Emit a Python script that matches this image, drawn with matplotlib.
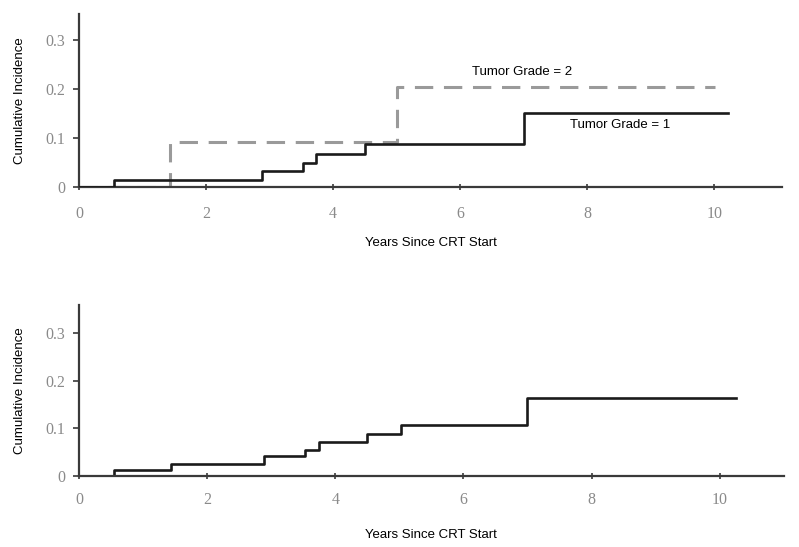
import matplotlib
matplotlib.use("Agg")
import matplotlib.pyplot as plt

# top panel: cumulative incidence by tumor grade
grade1_years = [0, 0.55, 2.88, 3.52, 3.73, 4.5, 7.0, 10.22]
grade1_inc = [0, 0.015, 0.033, 0.050, 0.067, 0.088, 0.152, 0.152]

grade2_years = [0, 1.43, 5.01, 10.02]
grade2_inc = [0, 0.093, 0.205, 0.205]

# bottom panel: overall cumulative incidence
all_years = [0, 0.55, 1.44, 2.89, 3.53, 3.74, 4.5, 5.02, 7.0, 10.25]
all_inc = [0, 0.013, 0.026, 0.041, 0.055, 0.071, 0.088, 0.106, 0.163, 0.163]

x_ticks = [0, 2, 4, 6, 8, 10]
y_ticks = [0, 0.1, 0.2, 0.3]
y_tick_labels = ['0', '0.1', '0.2', '0.3']

SPINE_COLOR = '#3a3a3a'
TICK_COLOR = '#8a8a8a'

fig = plt.figure(figsize=(7.99, 5.47), dpi=100)
ax_top = fig.add_axes([0.0989, 0.658, 0.880, 0.316])
ax_bot = fig.add_axes([0.0989, 0.130, 0.882, 0.312])


def style_axis(ax, ymax, xmax, xpad, xlabelpad):
    ax.set_xlim(0, xmax)
    ax.set_ylim(0, ymax)
    for side in ['top', 'right']:
        ax.spines[side].set_visible(False)
    for side in ['left', 'bottom']:
        ax.spines[side].set_color(SPINE_COLOR)
        ax.spines[side].set_linewidth(1.6)
    ax.set_xticks(x_ticks)
    ax.set_yticks(y_ticks)
    ax.set_yticklabels(y_tick_labels)
    ax.tick_params(axis='x', direction='inout', length=5, width=1.2, color=SPINE_COLOR,
                   labelcolor=TICK_COLOR, labelsize=11.5, pad=xpad)
    ax.tick_params(axis='y', direction='out', length=4, width=1.2, color=SPINE_COLOR,
                   labelcolor=TICK_COLOR, labelsize=11.5, pad=6)
    for lbl in ax.get_xticklabels() + ax.get_yticklabels():
        lbl.set_family('Liberation Serif')
    ax.set_xlabel('Years Since CRT Start', fontsize=9.5, family='Liberation Sans',
                  labelpad=xlabelpad)
    ax.set_ylabel('Cumulative Incidence', fontsize=9.5, family='Liberation Sans', labelpad=14)


ax_top.plot(grade2_years, grade2_inc, drawstyle='steps-post', color='#9a9a9a',
            linewidth=2.2, dashes=(6, 3.5), zorder=2)
ax_top.plot(grade1_years, grade1_inc, drawstyle='steps-post', color='#1a1a1a',
            linewidth=1.9, zorder=3)
ax_top.text(6.98, 0.235, 'Tumor Grade = 2', ha='center', va='center', fontsize=9.5,
            family='Liberation Sans')
ax_top.text(8.52, 0.127, 'Tumor Grade = 1', ha='center', va='center', fontsize=9.5,
            family='Liberation Sans')
style_axis(ax_top, 0.353, 11.07, 11, 11)

ax_bot.plot(all_years, all_inc, drawstyle='steps-post', color='#1a1a1a', linewidth=1.9)
style_axis(ax_bot, 0.359, 11.0, 9, 15)

fig.savefig('out.png', dpi=100)
